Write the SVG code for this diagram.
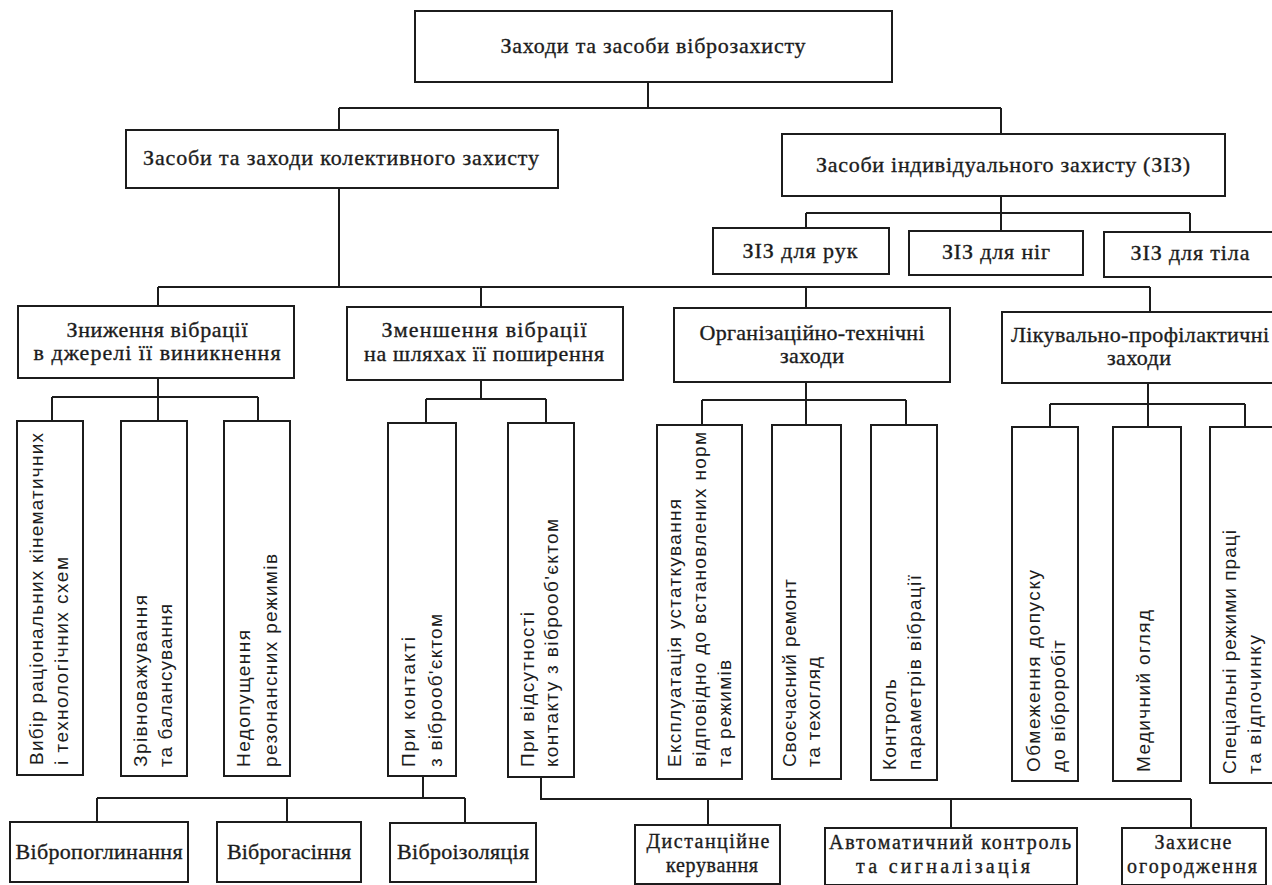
<svg xmlns="http://www.w3.org/2000/svg" width="1272" height="885" viewBox="0 0 1272 885">
<style>
.b{fill:#fff;stroke:#1c1c1c;stroke-width:2}
.c{fill:none;stroke:#1c1c1c;stroke-width:2}
.t{font-family:"Liberation Serif","Times New Roman",serif;font-size:22px;fill:#1c1c1c;stroke:#1c1c1c;stroke-width:0.35;text-anchor:middle}
.s{font-size:20px}
.v{font-family:"Liberation Sans",Arial,sans-serif;font-size:19px;fill:#1c1c1c}
</style>
<rect width="1272" height="885" fill="#fff"/>
<g id="connectors">
<path class="c" d="M648,82V108M339,108H1001M339,108V130M1001,108V134"/>
<path class="c" d="M339,188V287M158,287H1150M158,287V306M481,287V307M806,287V308M1150,287V312"/>
<path class="c" d="M1001,196V213M806,213H1190M806,213V228M1001,213V231M1190,213V232"/>
<path class="c" d="M158,378V397M52,397H258M52,397V421M158,397V421M258,397V421"/>
<path class="c" d="M481,380V399M426,399H546M426,399V423M546,399V423"/>
<path class="c" d="M806,382V400M702,400H906M702,400V425M806,400V425M906,400V425"/>
<path class="c" d="M1148,383V404M1050,404H1245M1050,404V427M1148,404V427M1245,404V427"/>
<path class="c" d="M423,776V798M97,798H465M97,798V822M287,798V822M465,798V823"/>
<path class="c" d="M541,777V799H1191M708,799V825M951,799V828M1191,799V828"/>
</g>
<g id="n-root"><rect class="b" x="415" y="11" width="477" height="71"/><text class="t" x="653" y="53" textLength="305">Заходи та засоби віброзахисту</text></g>
<g id="n-collective"><rect class="b" x="126" y="130" width="432" height="58"/><text class="t" x="341" y="165" textLength="396">Засоби та заходи колективного захисту</text></g>
<g id="n-individual"><rect class="b" x="782" y="134" width="443" height="62"/><text class="t" x="1003" y="172" textLength="374">Засоби індивідуального захисту (ЗІЗ)</text></g>
<g id="n-hands"><rect class="b" x="713" y="228" width="176" height="46"/><text class="t" x="800" y="258" textLength="115">ЗІЗ для рук</text></g>
<g id="n-legs"><rect class="b" x="909" y="231" width="174" height="44"/><text class="t" x="996" y="259" textLength="108">ЗІЗ для ніг</text></g>
<g id="n-body"><rect class="b" x="1104" y="232" width="190" height="45"/><text class="t" x="1190" y="260" textLength="119">ЗІЗ для тіла</text></g>
<g id="n-source"><rect class="b" x="18" y="306" width="276" height="72"/><text class="t" x="157" y="337" textLength="181">Зниження вібрації</text><text class="t" x="157" y="360" textLength="247">в  джерелі її виникнення</text></g>
<g id="n-path"><rect class="b" x="347" y="307" width="276" height="73"/><text class="t" x="484" y="337" textLength="205">Зменшення вібрації</text><text class="t" x="484" y="361" textLength="240">на шляхах її поширення</text></g>
<g id="n-org"><rect class="b" x="674" y="308" width="276" height="74"/><text class="t" x="812" y="340" textLength="225">Організаційно-технічні</text><text class="t" x="812" y="363" textLength="64">заходи</text></g>
<g id="n-med"><rect class="b" x="1002" y="312" width="290" height="71"/><text class="t" x="1140" y="342" textLength="258">Лікувально-профілактичні</text><text class="t" x="1139" y="365" textLength="64">заходи</text></g>
<g id="n-kinematic"><rect class="b" x="17" y="421" width="66" height="354"/><text class="v" transform="translate(43,765) rotate(-90)" textLength="332">Вибір раціональних кінематичних</text><text class="v" transform="translate(68,765) rotate(-90)" textLength="208">і технологічних схем</text></g>
<g id="n-balance"><rect class="b" x="121" y="421" width="66" height="355"/><text class="v" transform="translate(147,767) rotate(-90)" textLength="172">Зрівноважування</text><text class="v" transform="translate(172,767) rotate(-90)" textLength="163">та балансування</text></g>
<g id="n-resonance"><rect class="b" x="224" y="421" width="66" height="355"/><text class="v" transform="translate(250,767) rotate(-90)" textLength="137">Недопущення</text><text class="v" transform="translate(277,767) rotate(-90)" textLength="213">резонансних режимів</text></g>
<g id="n-contact"><rect class="b" x="388" y="423" width="68" height="353"/><text class="v" transform="translate(415,767) rotate(-90)" textLength="130">При контакті</text><text class="v" transform="translate(442,767) rotate(-90)" textLength="153">з віброоб'єктом</text></g>
<g id="n-nocontact"><rect class="b" x="508" y="423" width="66" height="354"/><text class="v" transform="translate(534,767) rotate(-90)" textLength="155">При відсутності</text><text class="v" transform="translate(558,767) rotate(-90)" textLength="248">контакту з віброоб'єктом</text></g>
<g id="n-exploit"><rect class="b" x="657" y="425" width="85" height="354"/><text class="v" transform="translate(681,767) rotate(-90)" textLength="268">Експлуатація устаткування</text><text class="v" transform="translate(706,767) rotate(-90)" textLength="335">відповідно  до встановлених норм</text><text class="v" transform="translate(731,767) rotate(-90)" textLength="107">та режимів</text></g>
<g id="n-repair"><rect class="b" x="772" y="425" width="69" height="354"/><text class="v" transform="translate(796,767) rotate(-90)" textLength="188">Своєчасний ремонт</text><text class="v" transform="translate(820,767) rotate(-90)" textLength="110">та техогляд</text></g>
<g id="n-control"><rect class="b" x="871" y="425" width="66" height="355"/><text class="v" transform="translate(896,770) rotate(-90)" textLength="91">Контроль</text><text class="v" transform="translate(921,770) rotate(-90)" textLength="195">параметрів  вібрації</text></g>
<g id="n-limit"><rect class="b" x="1012" y="427" width="66" height="354"/><text class="v" transform="translate(1040,772) rotate(-90)" textLength="202">Обмеження допуску</text><text class="v" transform="translate(1065,772) rotate(-90)" textLength="132">до віброробіт</text></g>
<g id="n-exam"><rect class="b" x="1113" y="427" width="68" height="354"/><text class="v" transform="translate(1150,772) rotate(-90)" textLength="162">Медичний огляд</text></g>
<g id="n-regime"><rect class="b" x="1210" y="427" width="80" height="356"/><text class="v" transform="translate(1236,774) rotate(-90)" textLength="244">Спеціальні режими праці</text><text class="v" transform="translate(1261,774) rotate(-90)" textLength="139">та відпочинку</text></g>
<g id="n-absorb"><rect class="b" x="10" y="822" width="178" height="60"/><text class="t" x="99" y="859" textLength="167">Вібропоглинання</text></g>
<g id="n-damp"><rect class="b" x="217" y="822" width="144" height="60"/><text class="t" x="289" y="859" textLength="124">Віброгасіння</text></g>
<g id="n-isol"><rect class="b" x="390" y="823" width="146" height="59"/><text class="t" x="463" y="859" textLength="132">Віброізоляція</text></g>
<g id="n-remote"><rect class="b" x="635" y="825" width="145" height="59"/><text class="t s" x="708" y="848" textLength="123">Дистанційне</text><text class="t s" x="712" y="872" textLength="92">керування</text></g>
<g id="n-auto"><rect class="b" x="825" y="828" width="252" height="57"/><text class="t s" x="950" y="849" textLength="242">Автоматичний контроль</text><text class="t s" x="943" y="873" textLength="174">та сигналізація</text></g>
<g id="n-fence"><rect class="b" x="1122" y="828" width="144" height="57"/><text class="t s" x="1193" y="849" textLength="77">Захисне</text><text class="t s" x="1192" y="873" textLength="130">огородження</text></g>
</svg>
